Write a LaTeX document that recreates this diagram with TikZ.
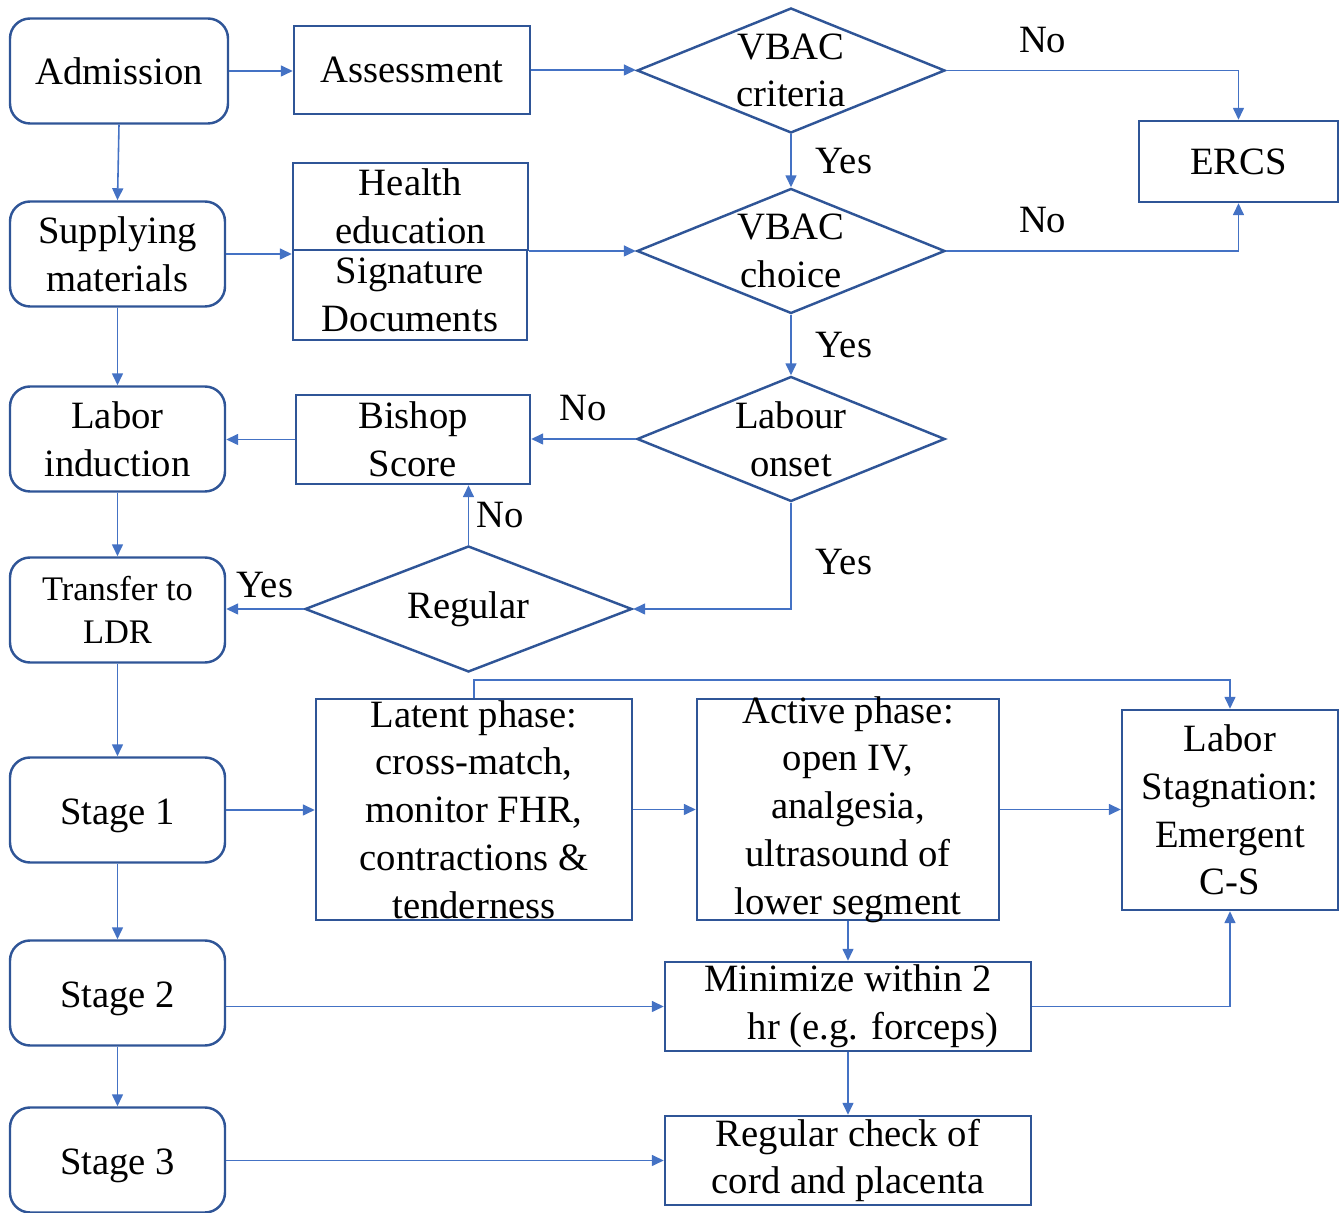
\documentclass[tikz,border=0pt]{standalone}
\usepackage{fontspec}
\setmainfont{Liberation Serif}
\usetikzlibrary{shapes.geometric,arrows.meta}
\definecolor{boxblue}{RGB}{47,85,151}
\definecolor{lineblue}{RGB}{68,114,196}
\begin{document}
\begin{tikzpicture}[font=\fontsize{11}{13.6}\selectfont,
  startbox/.style={draw=boxblue, line width=0.7pt, rounded corners=0.2cm, minimum width=2.15cm, minimum height=1.05cm, inner sep=0pt, align=center},
  procbox/.style={draw=boxblue, line width=0.7pt, inner xsep=0pt, inner ysep=-0.06cm, align=center},
  decision/.style={draw=boxblue, line width=0.7pt, diamond, aspect=2.46, inner xsep=-0.1cm, inner ysep=-0.05cm, minimum width=3.08cm, minimum height=1.25cm, align=center},
  link/.style={draw=lineblue, line width=0.45pt, -{Triangle[length=1.2mm,width=1.1mm]}},
  lab/.style={inner sep=0pt}]
\useasboundingbox (0,0) rectangle (13.41,-12.13);
\node[startbox, minimum width=2.18cm] (adm) at (1.19,-0.71) {Admission};
\node[startbox] (sup) at (1.175,-2.54) {Supplying\\materials};
\node[startbox] (ind) at (1.175,-4.39) {Labor\\induction};
\node[startbox, font=\fontsize{9.8}{12}\selectfont] (ldr) at (1.175,-6.10) {Transfer to\\LDR};
\node[startbox, text height=0.38cm] (st1) at (1.175,-8.10) {Stage 1};
\node[startbox, text height=0.38cm] (st2) at (1.175,-9.93) {Stage 2};
\node[startbox, text height=0.38cm] (st3) at (1.175,-11.60) {Stage 3};
\node[procbox, minimum width=2.36cm, minimum height=0.88cm] (ass) at (4.12,-0.70) {Assessment};
\node[procbox, minimum width=2.35cm, minimum height=0.87cm] (hed) at (4.105,-2.065) {Health\\education};
\node[procbox, minimum width=2.34cm, minimum height=0.90cm] (sig) at (4.10,-2.95) {Signature\\Documents};
\node[procbox, minimum width=2.34cm, minimum height=0.89cm] (bish) at (4.13,-4.395) {Bishop\\Score};
\node[procbox, minimum width=3.16cm, minimum height=2.21cm] (lat) at (4.74,-8.095) {Latent phase:\\cross-match,\\monitor FHR,\\contractions \&\\tenderness};
\node[procbox, minimum width=3.02cm, minimum height=2.21cm] (act) at (8.48,-8.095) {Active phase:\\open IV,\\analgesia,\\ultrasound of\\lower segment};
\node[procbox, minimum width=2.16cm, minimum height=2.00cm] (stag) at (12.30,-8.10) {Labor\\Stagnation:\\Emergent\\C-S};
\node[procbox, minimum width=1.99cm, minimum height=0.81cm] (ercs) at (12.385,-1.615) {ERCS};
\node[procbox, minimum width=3.66cm, minimum height=0.89cm] (mini) at (8.48,-10.065) {Minimize within 2\\\hspace*{0.5cm}hr (e.g. forceps)};
\node[procbox, minimum width=3.66cm, minimum height=0.89cm] (chk) at (8.48,-11.605) {Regular check of\\cord and placenta};
\node[decision] (crit) at (7.91,-0.705) {VBAC\\criteria};
\node[decision] (choi) at (7.91,-2.51) {VBAC\\choice};
\node[decision] (ons) at (7.91,-4.39) {Labour\\onset};
\node[decision, minimum width=3.27cm, minimum height=1.26cm] (reg) at (4.685,-6.09) {Regular};
\draw[link] (adm.east) -- (adm.east -| ass.west);
\draw[link] (ass.east) -- (ass.east -| crit.west);
\draw[link] (crit.east) -| (ercs.north) node[lab, pos=0.165, above=0.17cm] (no1) {No};
\draw[link] (crit.south) -- (choi.north) node[lab, midway, right=0.24cm] (yes1) {Yes};
\draw[link] (choi.east) -| (ercs.south) node[lab, pos=0.165, above=0.17cm] (no2) {No};
\draw[link] (choi.south) -- (ons.north) node[lab, midway, right=0.24cm] (yes2) {Yes};
\draw[link] (sup.east) -- (sup.east -| hed.west);
\draw[link] (choi.west -| hed.east) -- (choi.west);
\draw[link] (ons.west) -- (ons.west -| bish.east) node[lab, midway, above=0.17cm] (no3) {No};
\draw[link] (bish.west) -- (bish.west -| ind.east);
\draw[link] (ons.south) |- (reg.east) node[lab, pos=0.28, right=0.24cm] (yes3) {Yes};
\draw[link] (reg.north) -- (reg.north |- bish.south) node[lab, midway, right=0.07cm] (no4) {No};
\draw[link] (reg.west) -- (reg.west -| ldr.east) node[lab, midway, above=0.1cm] (yes4) {Yes};
\draw[link] (adm.south) -- (sup.north);
\draw[link] (sup) -- (ind);
\draw[link] (ind) -- (ldr);
\draw[link] (ldr) -- (st1);
\draw[link] (st1) -- (st2);
\draw[link] (st2) -- (st3);
\draw[link] (st1.east) -- (st1.east -| lat.west);
\draw[link] (lat.east) -- (lat.east -| act.west);
\draw[link] (act.east) -- (act.east -| stag.west);
\draw[link] (lat.north) -- ++(0,0.18) -| (stag.north);
\draw[link] (act.south) -- (mini.north);
\draw[link] (st2.east |- mini.west) -- (mini.west);
\draw[link] (mini.east) -| (stag.south);
\draw[link] (mini.south) -- (chk.north);
\draw[link] (st3.east |- chk.west) -- (chk.west);
\end{tikzpicture}
\end{document}
